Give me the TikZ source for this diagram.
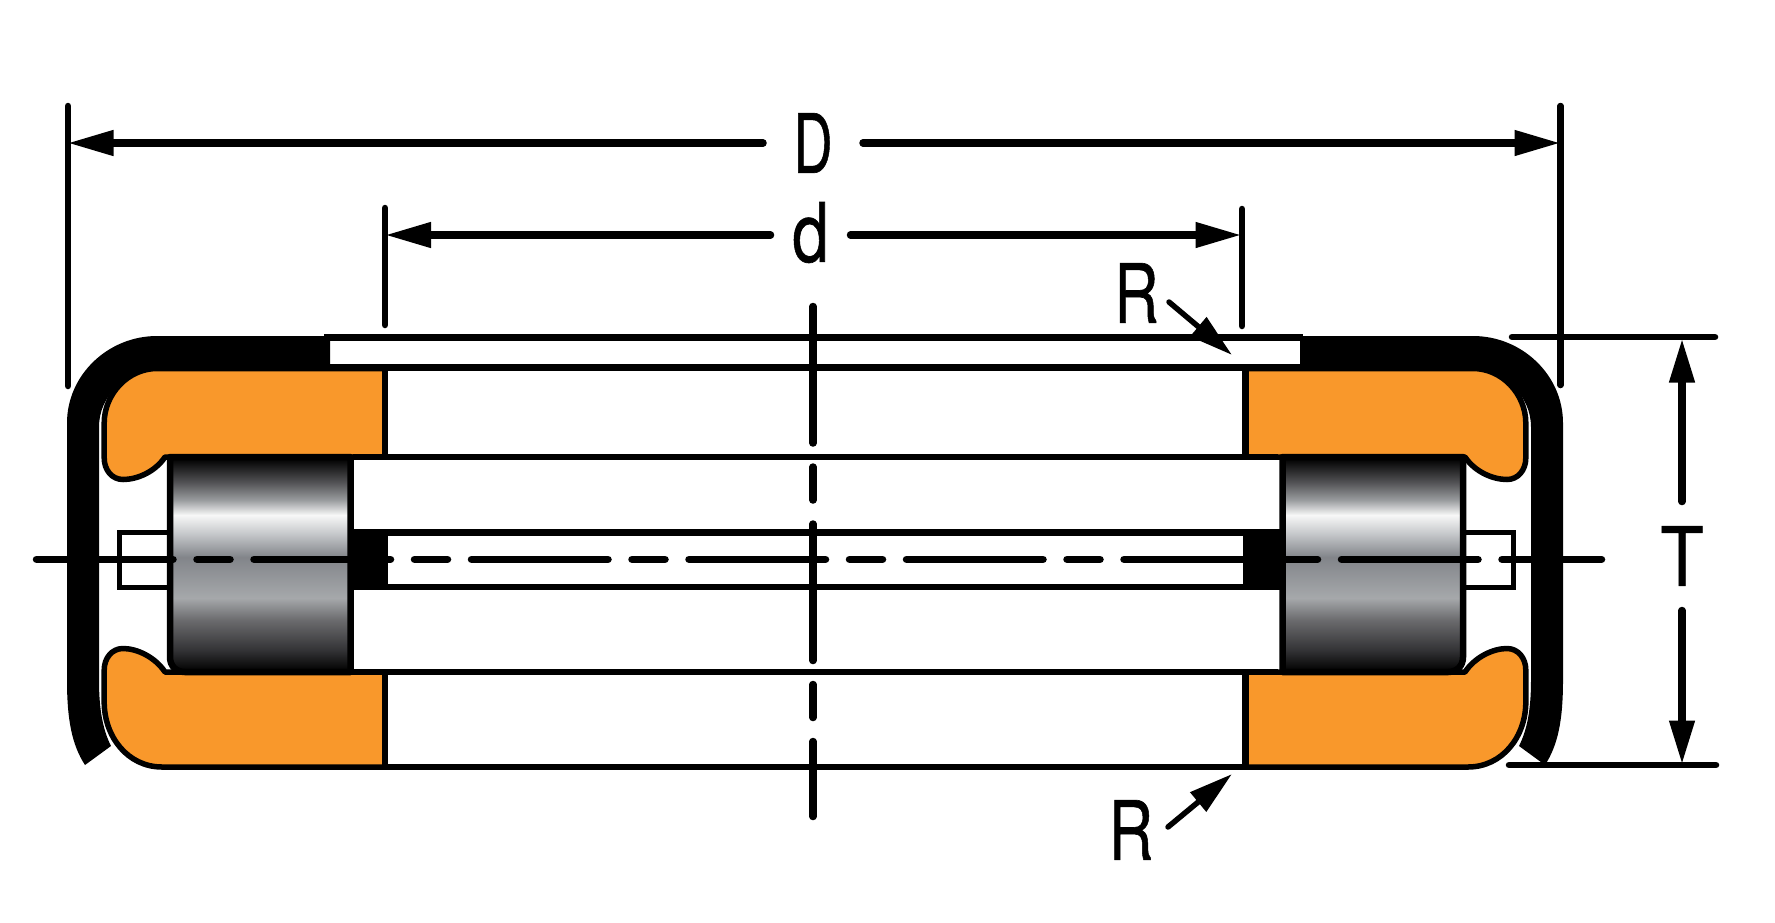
\documentclass[tikz,border=0pt]{standalone}
\usepackage{fontspec}
\setmainfont{TeX Gyre Heros}
\newfontfamily\dimfont[FakeBold=0.8]{TeX Gyre Heros}
\usetikzlibrary{arrows.meta}
\definecolor{bearingorange}{HTML}{F9982B}
\pgfdeclareverticalshading{rollershade}{100bp}{
  rgb(0bp)=(0,0,0);
  rgb(25.9bp)=(0.03,0.03,0.03);
  rgb(30.1bp)=(0.2,0.2,0.21);
  rgb(37.1bp)=(0.42,0.42,0.43);
  rgb(42.2bp)=(0.65,0.66,0.67);
  rgb(51.7bp)=(0.51,0.52,0.54);
  rgb(57.3bp)=(0.78,0.79,0.80);
  rgb(61.5bp)=(0.97,0.97,0.97);
  rgb(65bp)=(0.60,0.61,0.62);
  rgb(69bp)=(0.33,0.33,0.34);
  rgb(74.3bp)=(0.02,0.02,0.02);
  rgb(100bp)=(0,0,0)}
\tikzset{
  shellpart/.style={fill=black,draw=none},
  ringpart/.style={fill=bearingorange,draw=black,line width=5.5pt,line join=round},
  rollerpart/.style={shading=rollershade,draw=black,line width=6.5pt,line join=round},
  stubpart/.style={draw=black,line width=5.5pt,fill=white,line join=miter},
  blockpart/.style={fill=black,draw=none},
  bodyline/.style={draw=black,line width=6.5pt},
  thickbody/.style={draw=black,line width=7pt},
  axisline/.style={draw=black,line width=7.5pt,line cap=round,dash pattern=on 136.5pt off 24pt on 33pt off 24pt},
  extline/.style={draw=black,line width=6.5pt,line cap=round},
  dimline/.style={draw=black,line width=7.5pt,line cap=round,{Triangle[length=46pt,width=24pt]}-},
  dimlinev/.style={draw=black,line width=7.5pt,line cap=round,{Triangle[length=44pt,width=24pt]}-},
  radline/.style={draw=black,line width=5.5pt,line cap=round,-{Triangle[length=44pt,width=24pt]}},
  dimlabel/.style={inner sep=0pt,outer sep=0pt,font=\dimfont\fontsize{82}{82}\selectfont}
}
\newcommand{\bearingside}{%
  % shell
  \path[shellpart] (330,336) -- (157,336) .. controls (108,336) and (67,375) .. (67,423)
    -- (67,680) .. controls (67,720) and (72,745) .. (85,765) -- (111,746)
    .. controls (103,730) and (99,710) .. (99,680) -- (99,427)
    .. controls (99,396) and (125,371) .. (157,371) -- (330,371) -- cycle;
  % upper ring
  \path[ringpart] (385,368.5) -- (157,368.5) .. controls (128,368.5) and (104.2,394) .. (104.2,423)
    -- (104.2,458) .. controls (104.2,470) and (112,479.5) .. (123,479.5)
    .. controls (137,479.5) and (155,472) .. (165,457) -- (385,457) -- cycle;
  % lower ring
  \path[ringpart] (385,672) -- (165,672) .. controls (155,657) and (137,648.5) .. (123,648.5)
    .. controls (112,648.5) and (104.2,658) .. (104.2,670) -- (104.2,702)
    .. controls (104.2,737) and (128,767) .. (162,767) -- (385,767) -- cycle;
}
\newcommand{\rollerside}{%
  \path[stubpart] (170,532.5) -- (119.5,532.5) -- (119.5,587.5) -- (170,587.5);
  \path[rollerpart] (170,457) -- (170,657) .. controls (170,666) and (176,672) .. (185,672)
    -- (350.5,672) -- (350.5,457) -- cycle;
}
\begin{document}
\begin{tikzpicture}[x=1pt,y=-1pt]
\useasboundingbox (0,0) rectangle (1775,922);
\fill[white] (0,0) rectangle (1775,922);

% bearing halves
\bearingside
\begin{scope}[xshift=1630pt,xscale=-1]\bearingside\end{scope}
\rollerside
\begin{scope}[xshift=1633pt,xscale=-1]\rollerside\end{scope}

% cage blocks and rails
\path[blockpart] (350,529) rectangle (388,590);
\path[blockpart] (1243,529) rectangle (1285,590);
\path[thickbody] (353,532.5) -- (1278,532.5);
\path[bodyline] (353,587) -- (1278,587);

% body lines
\path[thickbody] (324,337.3) -- (1303,337.3);
\path[bodyline] (330,367.7) -- (1300,367.7);
\path[bodyline] (353,457) -- (1278,457);
\path[bodyline] (353,672) -- (1278,672);
\path[bodyline] (385,767) -- (1245.5,767);
\path[bodyline] (385,366) -- (385,458);
\path[bodyline] (385,671) -- (385,770);
\path[bodyline] (1245.5,366) -- (1245.5,458);
\path[bodyline] (1245.5,671) -- (1245.5,770);

% axes
\coordinate (axisHa) at (36.5,559.3);
\coordinate (axisHb) at (1601.5,559.3);
\coordinate (axisVa) at (813,306.5);
\coordinate (axisVb) at (813,816.5);
\path[axisline] (axisHa) -- (axisHb);
\path[axisline] (axisVa) -- (axisVb);

% labels
\node[dimlabel,minimum width=100pt,minimum height=60pt] (labD) at (813,143) {\scalebox{0.66}[1]{D}};
\node[dimlabel,minimum width=80pt,minimum height=60pt] (labd) at (810.5,232.5) {\scalebox{0.8}[1]{d}};
\node[dimlabel,minimum width=40pt,minimum height=109pt] (labT) at (1682,556) {\scalebox{0.86}[1]{T}};
\node[dimlabel] (labRa) at (1136.5,293) {\scalebox{0.75}[1]{R}};
\node[dimlabel] (labRb) at (1131,830) {\scalebox{0.75}[1]{R}};

% extension lines
\coordinate (extDla) at (68,106);   \coordinate (extDlb) at (68,386);
\coordinate (extDra) at (1560.5,106); \coordinate (extDrb) at (1560.5,385);
\coordinate (extdla) at (385,208);  \coordinate (extdlb) at (385,325);
\coordinate (extdra) at (1242,209); \coordinate (extdrb) at (1242,326);
\coordinate (extTa) at (1512,337);  \coordinate (extTb) at (1715,337);
\coordinate (extTc) at (1509,765);  \coordinate (extTd) at (1716,765);
\path[extline] (extDla) -- (extDlb);
\path[extline] (extDra) -- (extDrb);
\path[extline] (extdla) -- (extdlb);
\path[extline] (extdra) -- (extdrb);
\path[extline] (extTa) -- (extTb);
\path[extline] (extTc) -- (extTd);

% dimension arrows
\coordinate (tipDl) at (67.5,143);   \coordinate (tipDr) at (1560.5,143);
\coordinate (tipdl) at (385,235); \coordinate (tipdr) at (1241.5,235);
\coordinate (tipTu) at (1682,338.5); \coordinate (tipTd) at (1682,764.5);
\path[dimline] (tipDl) -- (labD);
\path[dimline] (tipDr) -- (labD);
\path[dimline] (tipdl) -- (tipdl -| labd.west);
\path[dimline] (tipdr) -- (tipdr -| labd.east);
\path[dimlinev] (tipTu) -- (labT);
\path[dimlinev] (tipTd) -- (labT);

% radius arrows
\coordinate (radAs) at (1169,302); \coordinate (radAt) at (1232,355);
\coordinate (radBs) at (1168,827); \coordinate (radBt) at (1232,774);
\path[radline] (radAs) -- (radAt);
\path[radline] (radBs) -- (radBt);
\end{tikzpicture}
\end{document}
